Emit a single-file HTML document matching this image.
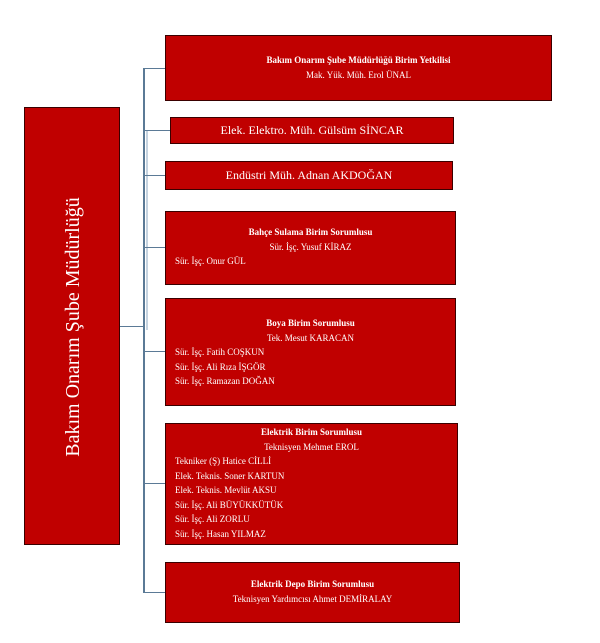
<!DOCTYPE html>
<html><head><meta charset="utf-8"><style>
body{margin:0;width:600px;height:643px;background:#fff;position:relative;font-family:"Liberation Serif",serif;color:#fff;overflow:hidden}
.b{position:absolute;background:#c00000;border:1px solid #3a0000;box-sizing:border-box;font-size:9px;line-height:14.5px}
.c{text-align:center}
.l{padding-left:9px}
.h{position:absolute;height:1px;background:#5b7a96}
</style></head><body>
<div style="position:absolute;left:143px;top:68px;width:2px;height:525px;background:#5b7a96"></div>
<div style="position:absolute;left:146px;top:130px;width:2px;height:200px;background:#c5d3e0"></div>
<div class="h" style="left:120px;top:326px;width:24px"></div>
<div class="h" style="left:143px;top:68px;width:22px"></div>
<div class="h" style="left:143px;top:130px;width:27px"></div>
<div class="h" style="left:143px;top:175px;width:22px"></div>
<div class="h" style="left:143px;top:247px;width:22px"></div>
<div class="h" style="left:143px;top:351px;width:22px"></div>
<div class="h" style="left:143px;top:483px;width:22px"></div>
<div class="h" style="left:143px;top:592px;width:22px"></div>

<div class="b" style="left:24px;top:107px;width:96px;height:438px">
<div style="position:absolute;left:48px;top:219px;transform:translate(-50%,-50%) rotate(-90deg);white-space:nowrap;font-size:20px">Bakım Onarım Şube Müdürlüğü</div></div>

<div class="b c" style="left:165px;top:35px;width:387px;height:66px;padding-top:17px"><b>Bakım Onarım Şube Müdürlüğü Birim Yetkilisi</b><br>Mak. Yük. Müh. Erol ÜNAL</div>
<div class="b c" style="left:170px;top:117px;width:284px;height:27px;font-size:12px;line-height:25px">Elek. Elektro. Müh. Gülsüm SİNCAR</div>
<div class="b c" style="left:165px;top:161px;width:288px;height:29px;font-size:12px;line-height:27px">Endüstri Müh. Adnan AKDOĞAN</div>
<div class="b" style="left:165px;top:211px;width:291px;height:74px;padding-top:13px"><div class="c"><b>Bahçe Sulama Birim Sorumlusu</b><br>Sür. İşç. Yusuf KİRAZ</div><div class="l">Sür. İşç. Onur GÜL</div></div>
<div class="b" style="left:165px;top:298px;width:291px;height:108px;padding-top:17px"><div class="c"><b>Boya Birim Sorumlusu</b><br>Tek. Mesut KARACAN</div><div class="l">Sür. İşç. Fatih COŞKUN<br>Sür. İşç. Ali Rıza İŞGÖR<br>Sür. İşç. Ramazan DOĞAN</div></div>
<div class="b" style="left:165px;top:423px;width:293px;height:122px;padding-top:1px"><div class="c"><b>Elektrik Birim Sorumlusu</b><br>Teknisyen Mehmet EROL</div><div class="l">Tekniker (Ş) Hatice CİLLİ<br>Elek. Teknis. Soner KARTUN<br>Elek. Teknis. Mevlüt AKSU<br>Sür. İşç. Ali BÜYÜKKÜTÜK<br>Sür. İşç. Ali ZORLU<br>Sür. İşç. Hasan YILMAZ</div></div>
<div class="b c" style="left:165px;top:562px;width:295px;height:61px;padding-top:14px"><b>Elektrik Depo Birim Sorumlusu</b><br>Teknisyen Yardımcısı Ahmet DEMİRALAY</div>
</body></html>
